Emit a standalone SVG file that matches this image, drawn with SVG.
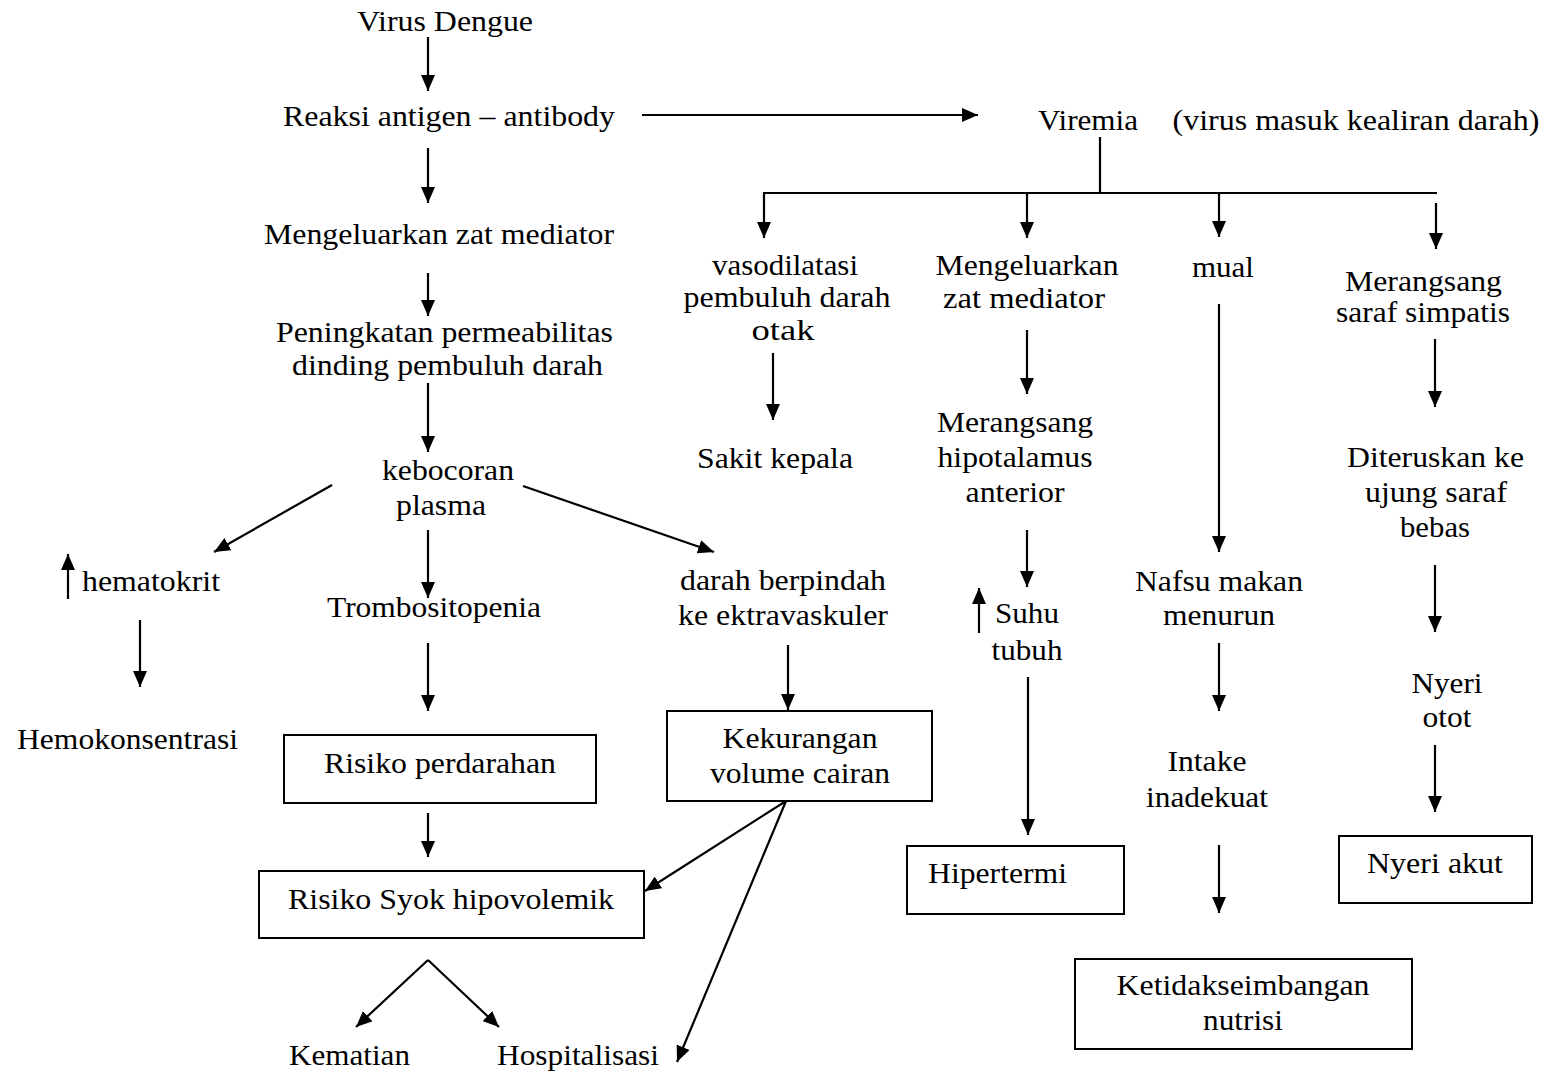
<svg xmlns="http://www.w3.org/2000/svg" width="1546" height="1075" viewBox="0 0 1546 1075">
<style>
text{font-family:"Liberation Serif","Times New Roman",serif;font-size:30px;fill:#000;text-anchor:middle}
.l{text-anchor:start}
.box{fill:#fff;stroke:#000;stroke-width:2}
.c line,.c path{stroke:#000;stroke-width:2.2;fill:none}
.a{marker-end:url(#ah)}
</style>
<defs>
<marker id="ah" viewBox="0 0 16 14" refX="16" refY="7" markerWidth="16" markerHeight="14" markerUnits="userSpaceOnUse" orient="auto">
<path d="M0,0 L16,7 L0,14 z" fill="#000"/>
</marker>
</defs>
<rect width="1546" height="1075" fill="#fff"/>
<g class="c" id="connectors">
<line class="a" x1="428" y1="37" x2="428" y2="91"/>
<line class="a" x1="428" y1="148" x2="428" y2="203"/>
<line class="a" x1="428" y1="273" x2="428" y2="316"/>
<line class="a" x1="428" y1="383" x2="428" y2="452"/>
<line class="a" x1="332" y1="485" x2="214" y2="552"/>
<line class="a" x1="428" y1="530" x2="428" y2="598"/>
<line class="a" x1="523" y1="486" x2="714" y2="552"/>
<line class="a" x1="68" y1="599" x2="68" y2="554"/>
<line class="a" x1="140" y1="620" x2="140" y2="687"/>
<line class="a" x1="428" y1="643" x2="428" y2="711"/>
<line class="a" x1="428" y1="813" x2="428" y2="857"/>
<line class="a" x1="786" y1="801" x2="645" y2="891"/>
<line class="a" x1="786" y1="801" x2="677" y2="1062"/>
<line class="a" x1="428" y1="960" x2="356" y2="1027"/>
<line class="a" x1="428" y1="960" x2="499" y2="1027"/>
<line class="a" x1="788" y1="645" x2="788" y2="710"/>
<line class="a" x1="642" y1="115" x2="978" y2="115"/>
<line x1="1100" y1="137" x2="1100" y2="193"/>
<line x1="763" y1="193" x2="1437" y2="193"/>
<line class="a" x1="764" y1="193" x2="764" y2="238"/>
<line class="a" x1="1027" y1="193" x2="1027" y2="238"/>
<line class="a" x1="1219" y1="193" x2="1219" y2="237"/>
<line class="a" x1="1436" y1="203" x2="1436" y2="249"/>
<line class="a" x1="773" y1="353" x2="773" y2="420"/>
<line class="a" x1="1027" y1="330" x2="1027" y2="394"/>
<line class="a" x1="1027" y1="530" x2="1027" y2="587"/>
<line class="a" x1="979" y1="633" x2="979" y2="588"/>
<line class="a" x1="1028" y1="677" x2="1028" y2="835"/>
<line class="a" x1="1219" y1="304" x2="1219" y2="552"/>
<line class="a" x1="1219" y1="643" x2="1219" y2="711"/>
<line class="a" x1="1219" y1="845" x2="1219" y2="913"/>
<line class="a" x1="1435" y1="339" x2="1435" y2="407"/>
<line class="a" x1="1435" y1="565" x2="1435" y2="632"/>
<line class="a" x1="1435" y1="745" x2="1435" y2="812"/>
</g>
<g id="virus-dengue"><text x="445" y="31" textLength="176" lengthAdjust="spacingAndGlyphs">Virus Dengue</text></g>
<g id="reaksi"><text x="449" y="126" textLength="332" lengthAdjust="spacingAndGlyphs">Reaksi antigen – antibody</text></g>
<g id="mediator1"><text x="439" y="244" textLength="350" lengthAdjust="spacingAndGlyphs">Mengeluarkan zat mediator</text></g>
<g id="permeabilitas">
<text x="444.5" y="342" textLength="337" lengthAdjust="spacingAndGlyphs">Peningkatan permeabilitas</text>
<text x="447.5" y="375" textLength="311" lengthAdjust="spacingAndGlyphs">dinding pembuluh darah</text>
</g>
<g id="kebocoran">
<text x="448" y="480" textLength="132" lengthAdjust="spacingAndGlyphs">kebocoran</text>
<text x="441" y="515" textLength="90" lengthAdjust="spacingAndGlyphs">plasma</text>
</g>
<g id="hematokrit"><text x="151" y="591" textLength="138" lengthAdjust="spacingAndGlyphs">hematokrit</text></g>
<g id="trombositopenia"><text x="434" y="617" textLength="214" lengthAdjust="spacingAndGlyphs">Trombositopenia</text></g>
<g id="darah-berpindah">
<text x="783" y="590" textLength="206" lengthAdjust="spacingAndGlyphs">darah berpindah</text>
<text x="783" y="625" textLength="210" lengthAdjust="spacingAndGlyphs">ke ektravaskuler</text>
</g>
<g id="hemokonsentrasi"><text x="127.5" y="749" textLength="221" lengthAdjust="spacingAndGlyphs">Hemokonsentrasi</text></g>
<g id="risiko-perdarahan">
<rect class="box" x="284" y="735" width="312" height="68"/>
<text x="440" y="773" textLength="232" lengthAdjust="spacingAndGlyphs">Risiko perdarahan</text>
</g>
<g id="kekurangan">
<rect class="box" x="667" y="711" width="265" height="90"/>
<text x="800" y="748" textLength="155" lengthAdjust="spacingAndGlyphs">Kekurangan</text>
<text x="800" y="783" textLength="180" lengthAdjust="spacingAndGlyphs">volume cairan</text>
</g>
<g id="syok">
<rect class="box" x="259" y="871" width="385" height="67"/>
<text x="451" y="909" textLength="326" lengthAdjust="spacingAndGlyphs">Risiko Syok hipovolemik</text>
</g>
<g id="kematian"><text x="349.5" y="1065" textLength="121" lengthAdjust="spacingAndGlyphs">Kematian</text></g>
<g id="hospitalisasi"><text x="578" y="1065" textLength="162" lengthAdjust="spacingAndGlyphs">Hospitalisasi</text></g>
<g id="viremia">
<text x="1088" y="130" textLength="100" lengthAdjust="spacingAndGlyphs">Viremia</text>
<text x="1356" y="130" textLength="367" lengthAdjust="spacingAndGlyphs">(virus masuk kealiran darah)</text>
</g>
<g id="vasodilatasi">
<text x="785" y="275" textLength="146" lengthAdjust="spacingAndGlyphs">vasodilatasi</text>
<text x="787" y="307" textLength="207" lengthAdjust="spacingAndGlyphs">pembuluh darah</text>
<text x="783" y="340" textLength="63" lengthAdjust="spacingAndGlyphs">otak</text>
</g>
<g id="mediator2">
<text x="1027" y="275" textLength="183" lengthAdjust="spacingAndGlyphs">Mengeluarkan</text>
<text x="1024" y="308" textLength="162" lengthAdjust="spacingAndGlyphs">zat mediator</text>
</g>
<g id="mual"><text x="1223" y="277" textLength="62" lengthAdjust="spacingAndGlyphs">mual</text></g>
<g id="simpatis">
<text x="1423.5" y="291" textLength="157" lengthAdjust="spacingAndGlyphs">Merangsang</text>
<text x="1423" y="322" textLength="174" lengthAdjust="spacingAndGlyphs">saraf simpatis</text>
</g>
<g id="sakit-kepala"><text x="775" y="468" textLength="156" lengthAdjust="spacingAndGlyphs">Sakit kepala</text></g>
<g id="hipotalamus">
<text x="1015" y="432" textLength="156" lengthAdjust="spacingAndGlyphs">Merangsang</text>
<text x="1015" y="467" textLength="155" lengthAdjust="spacingAndGlyphs">hipotalamus</text>
<text x="1015" y="502" textLength="99" lengthAdjust="spacingAndGlyphs">anterior</text>
</g>
<g id="suhu">
<text x="1027" y="623" textLength="64" lengthAdjust="spacingAndGlyphs">Suhu</text>
<text x="1027" y="660" textLength="71" lengthAdjust="spacingAndGlyphs">tubuh</text>
</g>
<g id="nafsu">
<text x="1219" y="591" textLength="168" lengthAdjust="spacingAndGlyphs">Nafsu makan</text>
<text x="1219" y="625" textLength="112" lengthAdjust="spacingAndGlyphs">menurun</text>
</g>
<g id="diteruskan">
<text x="1435.5" y="467" textLength="177" lengthAdjust="spacingAndGlyphs">Diteruskan ke</text>
<text x="1436" y="502" textLength="142" lengthAdjust="spacingAndGlyphs">ujung saraf</text>
<text x="1435" y="537" textLength="70" lengthAdjust="spacingAndGlyphs">bebas</text>
</g>
<g id="nyeri-otot">
<text x="1447" y="693" textLength="71" lengthAdjust="spacingAndGlyphs">Nyeri</text>
<text x="1447" y="727" textLength="49" lengthAdjust="spacingAndGlyphs">otot</text>
</g>
<g id="intake">
<text x="1207" y="771" textLength="79" lengthAdjust="spacingAndGlyphs">Intake</text>
<text x="1207" y="807" textLength="122" lengthAdjust="spacingAndGlyphs">inadekuat</text>
</g>
<g id="hipertermi">
<rect class="box" x="907" y="846" width="217" height="68"/>
<text class="l" x="928" y="883" textLength="139" lengthAdjust="spacingAndGlyphs">Hipertermi</text>
</g>
<g id="nyeri-akut">
<rect class="box" x="1339" y="836" width="193" height="67"/>
<text x="1435" y="873" textLength="136" lengthAdjust="spacingAndGlyphs">Nyeri akut</text>
</g>
<g id="ketidakseimbangan">
<rect class="box" x="1075" y="959" width="337" height="90"/>
<text x="1243" y="995" textLength="253" lengthAdjust="spacingAndGlyphs">Ketidakseimbangan</text>
<text x="1243" y="1030" textLength="80" lengthAdjust="spacingAndGlyphs">nutrisi</text>
</g>
</svg>
